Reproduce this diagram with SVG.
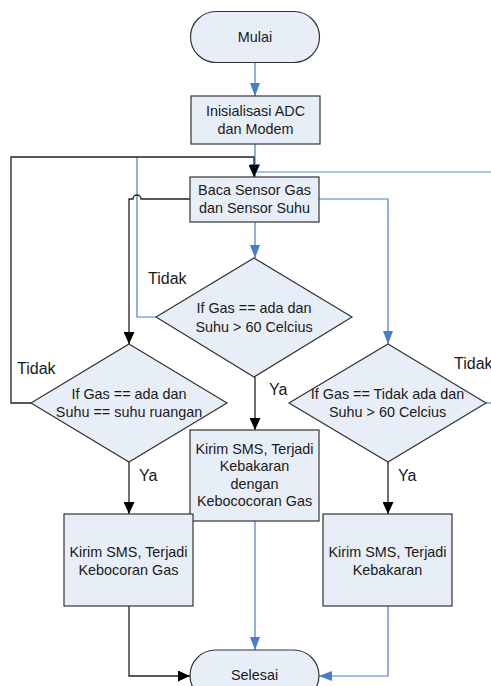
<svg xmlns="http://www.w3.org/2000/svg" width="491" height="686" viewBox="0 0 491 686">
<style>
.n{fill:#E8EEF8;stroke:#333333;stroke-width:1.2}
.t{font-family:"Liberation Sans",Arial,sans-serif;font-size:14.4px;fill:#1a1a1a;text-anchor:middle}
.l{font-family:"Liberation Sans",Arial,sans-serif;font-size:16px;fill:#1a1a1a}
.b{fill:none;stroke:#4A7DC9;stroke-width:1.2}
.lb{fill:none;stroke:#90ACDA;stroke-width:1.5}
.k{fill:none;stroke:#222222;stroke-width:1.3}
</style>
<defs>
<marker id="ab" markerUnits="userSpaceOnUse" markerWidth="13" markerHeight="10" refX="13" refY="5" orient="auto"><path d="M0,0 L13,5 L0,10 z" fill="#4A7DC9"/></marker>
<marker id="ak" markerUnits="userSpaceOnUse" markerWidth="12" markerHeight="11" refX="12" refY="5.5" orient="auto"><path d="M0,0 L12,5.5 L0,11 z" fill="#000000"/></marker>
</defs>
<g id="connectors">
<path class="b" d="M255,63 V96" marker-end="url(#ab)"/>
<path class="b" d="M255,144 V177" marker-end="url(#ab)"/>
<path class="b" d="M255,222 V258" marker-end="url(#ab)"/>
<path class="b" d="M319,199 H388 V344" marker-end="url(#ab)"/>
<path class="b" d="M156,317 H137 V157"/>
<path class="k" d="M31,403 H11 V157 H254 V177" marker-end="url(#ak)"/>
<path class="k" d="M190,199 H141 A4,4 0 0 0 133,199 H129 V344" marker-end="url(#ak)"/>
<path class="b" d="M486,403 H491"/>
<path class="lb" d="M491,172 H257"/>
<path class="k" d="M255,377 V430" marker-end="url(#ak)"/>
<path class="k" d="M129,462 V514" marker-end="url(#ak)"/>
<path class="k" d="M388,462 V514" marker-end="url(#ak)"/>
<path class="b" d="M255,521 V650" marker-end="url(#ab)"/>
<path class="k" d="M129,606 V676 H190" marker-end="url(#ak)"/>
<path class="b" d="M388,606 V676 H319" marker-end="url(#ab)"/>
</g>
<g id="mulai"><rect class="n" x="190.5" y="11.5" width="129" height="51" rx="25.5"/><text class="t" x="255" y="41.5">Mulai</text></g>
<g id="init"><rect class="n" x="191" y="96" width="129" height="48"/><text class="t" x="255.5" y="116">Inisialisasi ADC</text><text class="t" x="255.5" y="133.5">dan Modem</text></g>
<g id="baca"><rect class="n" x="190" y="177" width="129" height="45"/><text class="t" x="254.5" y="195">Baca Sensor Gas</text><text class="t" x="254.5" y="213">dan Sensor Suhu</text></g>
<g id="d1"><polygon class="n" points="254,258 352,317 254,377 156,317"/><text class="t" x="254" y="313">If Gas == ada dan</text><text class="t" x="254" y="331.5">Suhu &gt; 60 Celcius</text></g>
<g id="d2"><polygon class="n" points="129,344 227,403 129,462 31,403"/><text class="t" x="129" y="399">If Gas == ada dan</text><text class="t" x="129" y="417">Suhu == suhu ruangan</text></g>
<g id="d3"><polygon class="n" points="388,344 486,403 388,462 289,403"/><text class="t" x="387.5" y="399">If Gas == Tidak ada dan</text><text class="t" x="387.5" y="417">Suhu &gt; 60 Celcius</text></g>
<g id="box1"><rect class="n" x="190" y="430" width="129" height="91"/><text class="t" x="254.5" y="453.5">Kirim SMS, Terjadi</text><text class="t" x="254.5" y="471">Kebakaran</text><text class="t" x="254.5" y="488.5">dengan</text><text class="t" x="254.5" y="506">Kebococoran Gas</text></g>
<g id="box2"><rect class="n" x="64" y="514" width="129" height="92"/><text class="t" x="128.5" y="557">Kirim SMS, Terjadi</text><text class="t" x="128.5" y="574.5">Kebocoran Gas</text></g>
<g id="box3"><rect class="n" x="323" y="514" width="129" height="92"/><text class="t" x="387.5" y="557">Kirim SMS, Terjadi</text><text class="t" x="387.5" y="574.5">Kebakaran</text></g>
<g id="selesai"><rect class="n" x="190" y="650" width="129" height="51" rx="25.5"/><text class="t" x="254.5" y="680">Selesai</text></g>
<g id="labels">
<text class="l" x="148" y="284">Tidak</text>
<text class="l" x="17" y="374">Tidak</text>
<text class="l" x="454" y="369">Tidak</text>
<text class="l" x="269" y="395">Ya</text>
<text class="l" x="139" y="481">Ya</text>
<text class="l" x="398" y="481">Ya</text>
</g>
</svg>
